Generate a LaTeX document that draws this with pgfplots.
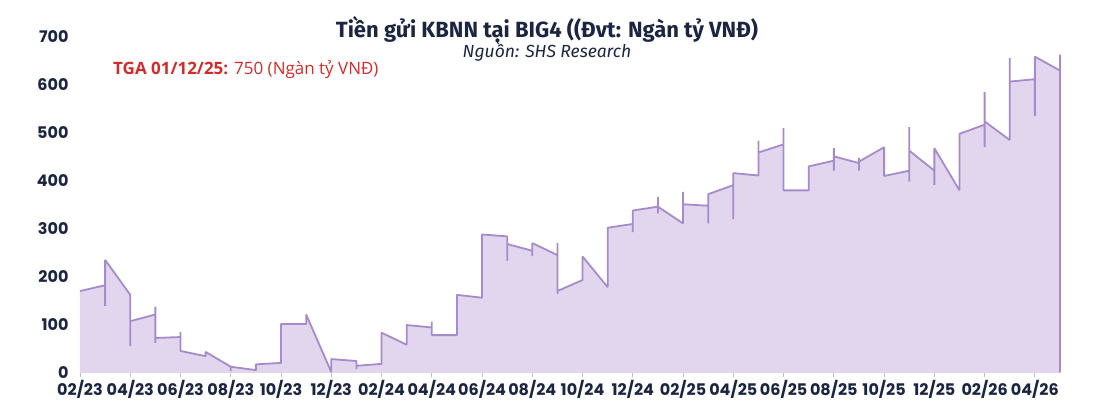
\documentclass[border=0pt]{standalone}
\usepackage{fontspec}
\setmainfont{Fira Sans}
\newfontfamily\tickfont{Poppins}
\newfontfamily\notefont{Open Sans}
\usepackage{pgfplots}
\pgfplotsset{compat=1.18}
\usepackage{pgfplotstable}
\definecolor{navy}{HTML}{1B2541}
\definecolor{areafill}{HTML}{E2D6EE}
\definecolor{arealine}{HTML}{A68BCB}
\definecolor{tgared}{HTML}{D22B2B}

% month index from 02/23; repeated k = jumps / spikes at the month boundary
\pgfplotstableread{
k v
0 170
1 182
1 139
1 235
2 162
2 55
2 107
3 121
3 137
3 62
3 72
4 74
4 85
4 45
5 34
5 43
6 12
6 3
6 12
7 5
7 17
8 20
8 101
9 101
9 121
10 1
10 28
11 24
11 7
11 14
12 18
12 83
13 58
13 99
14 94
14 106
14 77
14 78
15 78
15 162
16 156
16 288
17 284
17 233
17 268
18 254
18 243
18 270
19 245
19 270
19 164
19 170
20 193
20 242
21 178
21 302
22 310
22 293
22 338
23 346
23 366
23 332
23 346
24 311
24 377
24 351
25 348
25 311
25 372
26 391
26 320
26 416
27 411
27 484
27 459
28 476
28 510
28 380
29 380
29 430
30 442
30 468
30 421
30 451
31 437
31 448
31 421
31 440
32 470
32 410
33 421
33 512
33 398
33 463
34 421
34 391
34 468
35 380
35 498
36 517
36 585
36 470
36 524
37 485
37 656
37 607
38 612
38 535
38 659
39 630
39 663
39 0
}\tga

\begin{document}
\begin{tikzpicture}
\path[use as bounding box] (0,0) rectangle (1095pt,404pt);
\begin{axis}[
  at={(80pt,31.5pt)}, anchor=south west,
  scale only axis, width=980pt, height=335.5pt,
  xmin=0, xmax=39, ymin=0, ymax=700,
  axis x line*=bottom, axis y line*=left,
  y axis line style={draw=none},
  x axis line style={draw=gray!30},
  xtick={0,2,...,38},
  xticklabels={02/23,04/23,06/23,08/23,10/23,12/23,02/24,04/24,06/24,08/24,10/24,12/24,02/25,04/25,06/25,08/25,10/25,12/25,02/26,04/26},
  ytick={0,100,...,700},
  ytick style={draw=none},
  xtick style={draw=gray!50, line width=0.8pt},
  major tick length=5pt,
  tick align=outside,
  tick label style={font=\tickfont\bfseries\fontsize{16}{16}\selectfont, text=navy},
  /pgf/number format/assume math mode=true,
  yticklabel style={xshift=-3pt},
  xticklabel style={yshift=1pt},
  clip=false,
]
\addplot[draw=none, fill=areafill] table[x=k, y=v]{\tga} \closedcycle;
\addplot[arealine, line width=1.8pt, line join=bevel] table[x=k, y=v]{\tga};
\end{axis}
\node[font=\bfseries\fontsize{22}{22}\selectfont, text=navy] at (547pt,374pt) {Tiền gửi KBNN tại BIG4 ((Đvt: Ngàn tỷ VNĐ)};
\node[font=\itshape\fontsize{17.5}{17.5}\selectfont, text=navy] at (547pt,352pt) {Nguồn: SHS Research};
\node[anchor=west, inner sep=0pt, font=\notefont\fontsize{17}{17}\selectfont, text=tgared] at (113pt,334pt) {\textbf{TGA 01/12/25:} 750 (Ngàn tỷ VNĐ)};
\end{tikzpicture}
\end{document}
